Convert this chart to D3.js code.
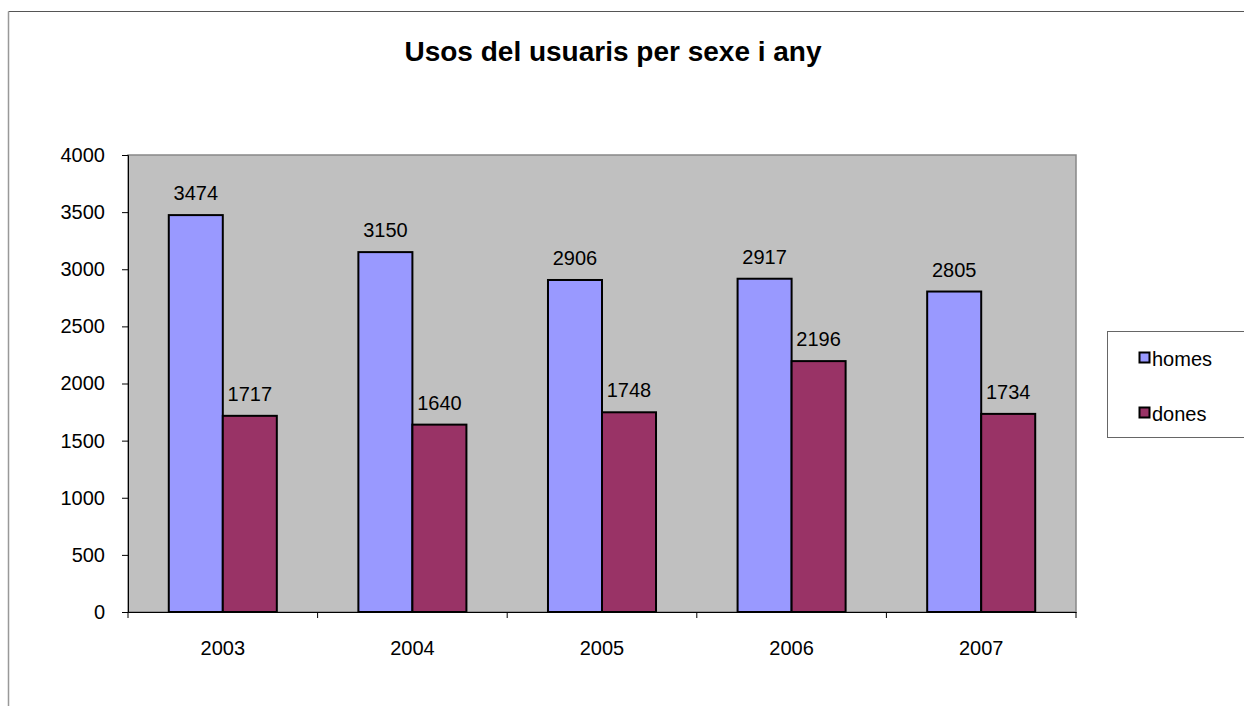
<!DOCTYPE html>
<html><head><meta charset="utf-8">
<script src="https://cdn.jsdelivr.net/npm/d3@7"></script>
<style>body{margin:0;background:#fff;}svg{display:block;font-family:"Liberation Sans",Arial,sans-serif;}</style>
</head><body>
<svg id="c" width="1244" height="706"></svg>
<script>
const title = "Usos del usuaris per sexe i any";
const years = ["2003","2004","2005","2006","2007"];
const seriesNames = ["homes","dones"];
const homes = [3474,3150,2906,2917,2805];
const dones = [1717,1640,1748,2196,1734];
const colors = ["#9999ff","#993366"];
const yTicks = [0,500,1000,1500,2000,2500,3000,3500,4000];

const FONT = "Liberation Sans, Arial, sans-serif";
const svg = d3.select("#c");
// outer chart border
svg.append("line").attr("x1",8.5).attr("x2",1244).attr("y1",11.5).attr("y2",11.5).attr("stroke","#555").attr("stroke-width",1);
svg.append("line").attr("x1",8.5).attr("x2",8.5).attr("y1",11.5).attr("y2",706).attr("stroke","#999").attr("stroke-width",1.5);

const L=128, R=1076, T=155, B=612;
const x = d3.scaleBand().domain(years).range([L,R]).paddingInner(0).paddingOuter(0);
const x1 = d3.scaleBand().domain(seriesNames).range([0,x.bandwidth()]).paddingOuter(0.755).paddingInner(0);
const y = d3.scaleLinear().domain([0,4000]).range([B,T]);

svg.append("rect").attr("x",L).attr("y",T).attr("width",R-L).attr("height",B-T)
  .attr("fill","#c0c0c0").attr("stroke","#888").attr("stroke-width",1.5);

const data = years.map((yr,i)=>({yr, vals:[{k:"homes",v:homes[i],c:colors[0]},{k:"dones",v:dones[i],c:colors[1]}]}));
const g = svg.append("g").selectAll("g").data(data).join("g").attr("transform",d=>`translate(${x(d.yr)},0)`);
g.selectAll("rect").data(d=>d.vals).join("rect")
  .attr("x",d=>x1(d.k)).attr("y",d=>y(d.v)).attr("width",x1.bandwidth()).attr("height",d=>B-y(d.v))
  .attr("fill",d=>d.c).attr("stroke","#000").attr("stroke-width",2);
g.selectAll("text").data(d=>d.vals).join("text")
  .attr("x",d=>x1(d.k)+x1.bandwidth()/2).attr("y",d=>y(d.v)-15)
  .attr("text-anchor","middle").attr("font-size",20).attr("fill","#000").text(d=>d.v);

// y axis
const ya = svg.append("g").attr("transform",`translate(${L},0)`)
  .call(d3.axisLeft(y).tickValues(yTicks).tickFormat(d3.format("d")).tickSize(6).tickPadding(17));
ya.select(".domain").attr("stroke","#000");
ya.selectAll(".tick line").attr("stroke","#000");
ya.selectAll("text").attr("font-size",20).attr("font-family",FONT).attr("fill","#000");

// x axis
const xa = svg.append("g").attr("transform",`translate(0,${B})`)
  .call(d3.axisBottom(x).tickSize(0).tickPadding(29));
xa.select(".domain").attr("stroke","#000");
xa.selectAll("text").attr("font-size",20).attr("font-family",FONT).attr("fill","#000");
svg.append("g").selectAll("line").data(years.concat(["end"])).join("line")
  .attr("x1",(d,i)=>L+i*x.bandwidth()).attr("x2",(d,i)=>L+i*x.bandwidth())
  .attr("y1",B).attr("y2",B+6).attr("stroke","#000");

// title
svg.append("text").attr("x",613).attr("y",61).attr("text-anchor","middle")
  .attr("font-size",28).attr("font-weight","bold").attr("fill","#000").text(title);

// legend
svg.append("rect").attr("x",1107.5).attr("y",331.5).attr("width",140).attr("height",106)
  .attr("fill","#fff").attr("stroke","#666").attr("stroke-width",1);
const lg = svg.append("g").selectAll("g").data(seriesNames).join("g")
  .attr("transform",(d,i)=>`translate(1139,${352+i*55})`);
lg.append("rect").attr("x",0.5).attr("y",0.5).attr("width",10).attr("height",10)
  .attr("fill",(d,i)=>colors[i]).attr("stroke","#000").attr("stroke-width",2);
lg.append("text").attr("x",13).attr("y",14).attr("font-size",20).attr("fill","#000").text(d=>d);
</script>
</body></html>
